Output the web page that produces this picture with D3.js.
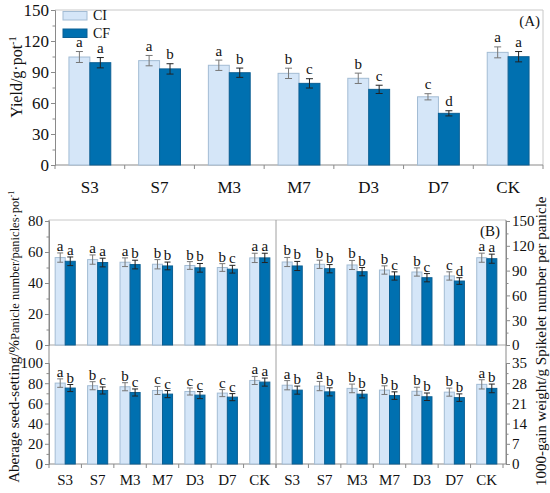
<!DOCTYPE html>
<html>
<head>
<meta charset="utf-8">
<script src="https://cdn.jsdelivr.net/npm/d3@7"></script>
<style>
  body { margin: 0; background: #fff; }
  svg { display: block; font-family: "Liberation Serif", "Times New Roman", serif; }
  svg text { font-family: "Liberation Serif", "Times New Roman", serif; }
</style>
</head>
<body>
<svg id="chart"></svg>
<script>
const width = 550;
const height = 493;

// treatments and series
const groups = ["S3", "S7", "M3", "M7", "D3", "D7", "CK"];
const series = ["CI", "CF"];

// (A) yield
const yieldCI = [104.5, 101, 96.5, 88.7, 83.9, 66, 109];
const yieldCF = [99, 93, 89.3, 79, 73.2, 50, 104.8];
const yieldErrCI = [5.3, 5, 5, 5, 5, 3, 5.3];
const yieldErrCF = [5, 5, 4.5, 4.5, 4, 2.5, 5];
const yieldLetCI = ["a", "a", "a", "b", "b", "c", "a"];
const yieldLetCF = ["a", "b", "b", "c", "c", "d", "a"];

// (B) panicle number
const panicleCI = [56.4, 55.1, 53.4, 52.1, 51.3, 50, 56.2];
const panicleCF = [54, 53.2, 51.9, 51, 49.8, 48.9, 56.2];
const panicleErrCI = [3, 3, 2.8, 3, 2.5, 2.5, 3];
const panicleErrCF = [2.8, 2.8, 2.8, 2.5, 2.8, 2.5, 3];
const panicleLetCI = ["a", "a", "a", "b", "b", "b", "a"];
const panicleLetCF = ["a", "a", "b", "b", "b", "c", "a"];

// (B) spikelet number per panicle
const spikeletCI = [100.4, 97.6, 96.8, 90.7, 88.3, 83.5, 105.6];
const spikeletCF = [95.6, 92.3, 88.7, 83.5, 81.4, 77.4, 104.4];
const spikeletErrCI = [5.5, 5, 5.5, 5, 5, 5, 5.5];
const spikeletErrCF = [5.5, 5, 5, 5, 5, 4, 5.5];
const spikeletLetCI = ["b", "b", "b", "b", "b", "c", "a"];
const spikeletLetCF = ["b", "b", "b", "c", "c", "d", "a"];

// (B) seed-setting
const seedCI = [80.1, 77.5, 76.5, 72.8, 71.8, 70.2, 82.7];
const seedCF = [75.2, 72.8, 70.8, 69.2, 68.2, 66.2, 81.1];
const seedErrCI = [4.2, 4, 4, 4, 3.5, 3.5, 4];
const seedErrCF = [3.5, 3.5, 3.5, 3.5, 3.5, 3.5, 4];
const seedLetCI = ["a", "b", "b", "c", "c", "c", "a"];
const seedLetCF = ["b", "c", "c", "c", "c", "c", "a"];

// (B) 1000-grain weight
const weightCI = [27.3, 27.0, 26.2, 25.6, 25.2, 24.9, 27.6];
const weightCF = [25.6, 25.0, 24.2, 23.7, 23.3, 23.0, 26.2];
const weightErrCI = [1.6, 1.6, 1.5, 1.5, 1.4, 1.4, 1.6];
const weightErrCF = [1.4, 1.4, 1.3, 1.3, 1.3, 1.3, 1.5];
const weightLetCI = ["a", "a", "b", "b", "b", "b", "a"];
const weightLetCF = ["b", "b", "b", "b", "b", "b", "b"];

const lightFill = "#d5e6f8", lightStroke = "#a3bcd4";
const darkFill = "#0070b0", darkStroke = "#0b5f93";
const axisColor = "#8a8a8a", frameColor = "#c8c8c8";

const svg = d3.select("#chart")
  .attr("width", width)
  .attr("height", height);

// draw one set of grouped bars with error bars and letters
function drawBars(x, y, ci, cf, errCI, errCF, letCI, letCF, opt) {
  const x1 = d3.scaleBand().domain(series).range([0, x.bandwidth()]);
  const rows = [];
  groups.forEach((gname, i) => {
    rows.push({g: gname, s: "CI", v: ci[i], e: errCI[i], l: letCI[i]});
    rows.push({g: gname, s: "CF", v: cf[i], e: errCF[i], l: letCF[i]});
  });
  const g = svg.append("g");
  const bar = g.selectAll("g.bar")
    .data(rows)
    .enter().append("g")
    .attr("class", "bar");

  bar.append("rect")
    .attr("x", d => x(d.g) + x1(d.s))
    .attr("y", d => y(d.v))
    .attr("width", x1.bandwidth())
    .attr("height", d => y(0) - y(d.v))
    .attr("fill", d => d.s === "CI" ? lightFill : darkFill)
    .attr("stroke", d => d.s === "CI" ? lightStroke : darkStroke)
    .attr("stroke-width", 1);

  const cx = d => x(d.g) + x1(d.s) + x1.bandwidth() / 2;
  const wc = d => d.s === "CI" ? "#777" : "#222";
  bar.append("line")
    .attr("x1", cx).attr("x2", cx)
    .attr("y1", d => y(d.v + d.e)).attr("y2", d => y(d.v - d.e))
    .attr("stroke", wc);
  [1, -1].forEach(sg => {
    bar.append("line")
      .attr("x1", d => cx(d) - opt.cap).attr("x2", d => cx(d) + opt.cap)
      .attr("y1", d => y(d.v + sg * d.e)).attr("y2", d => y(d.v + sg * d.e))
      .attr("stroke", wc);
  });

  bar.append("text")
    .attr("x", cx)
    .attr("y", d => y(d.v + d.e) - opt.gap)
    .attr("text-anchor", "middle")
    .attr("font-size", opt.font)
    .attr("fill", "#111")
    .text(d => d.l);
}

function styleAxis(sel, fs) {
  sel.attr("font-family", null).attr("font-size", null);
  sel.select(".domain").attr("stroke", axisColor);
  sel.selectAll(".tick line").attr("stroke", axisColor);
  sel.selectAll(".tick text").attr("font-size", fs).attr("fill", "#111");
}

function yAxis(y, xpos, major, minor, side, fs) {
  const make = side === "left" ? d3.axisLeft : d3.axisRight;
  const gMinor = svg.append("g").attr("transform", `translate(${xpos},0)`)
    .call(make(y).tickValues(minor).tickSize(2.5).tickSizeOuter(0).tickFormat(""));
  styleAxis(gMinor, fs);
  const gMajor = svg.append("g").attr("transform", `translate(${xpos},0)`)
    .call(make(y).tickValues(major).tickSize(4).tickSizeOuter(0).tickPadding(2));
  styleAxis(gMajor, fs);
}

function xAxis(x, ypos, labelY, fs) {
  const bounds = d3.range(groups.length + 1).map(k => x.range()[0] + k * x.step());
  const g = svg.append("g");
  g.selectAll("line.bt").data(bounds).enter().append("line")
    .attr("x1", d => d).attr("x2", d => d)
    .attr("y1", ypos).attr("y2", ypos + 4)
    .attr("stroke", axisColor);
  g.selectAll("text").data(groups).enter().append("text")
    .attr("x", d => x(d) + x.bandwidth() / 2)
    .attr("y", labelY)
    .attr("text-anchor", "middle")
    .attr("font-size", fs)
    .attr("fill", "#111")
    .text(d => d);
}

function rotLabel(xpos, ypos, text, fs, anchor, sup) {
  const t = svg.append("text")
    .attr("transform", `translate(${xpos},${ypos}) rotate(-90)`)
    .attr("text-anchor", anchor)
    .attr("font-size", fs)
    .attr("fill", "#111")
    .text(text);
  if (sup) {
    t.append("tspan").attr("dy", -fs * 0.4).attr("font-size", fs * 0.65).text(sup);
  }
  return t;
}

// ---------- Panel A ----------
const xA = d3.scaleBand().domain(groups).range([55, 543]).paddingInner(0.4).paddingOuter(0.2);
const yA = d3.scaleLinear().domain([0, 150]).range([165, 10]);

svg.append("path")
  .attr("d", `M55,10H543V165`)
  .attr("fill", "none").attr("stroke", frameColor);
svg.append("line").attr("x1", 55).attr("x2", 543).attr("y1", 165).attr("y2", 165)
  .attr("stroke", axisColor);

drawBars(xA, yA, yieldCI, yieldCF, yieldErrCI, yieldErrCF, yieldLetCI, yieldLetCF,
  {cap: 3.5, gap: 4.5, font: 15});
yAxis(yA, 55, d3.range(0, 151, 30), d3.range(15, 150, 30), "left", 17);
xAxis(xA, 165, 193, 17);
rotLabel(22, 77, "Yield/g·pot", 16, "middle", "-1");

svg.append("text").attr("x", 540).attr("y", 26).attr("text-anchor", "end")
  .attr("font-size", 15).attr("fill", "#111").text("(A)");

// legend
const legend = svg.append("g");
series.forEach((s, i) => {
  legend.append("rect")
    .attr("x", 63).attr("y", 11.5 + i * 17.5)
    .attr("width", 24).attr("height", 8.5)
    .attr("fill", s === "CI" ? lightFill : darkFill)
    .attr("stroke", s === "CI" ? lightStroke : darkStroke);
  legend.append("text")
    .attr("x", 93).attr("y", 20 + i * 17.5)
    .attr("font-size", 14).attr("fill", "#111")
    .text(s);
});

// ---------- Panel B ----------
const xBL = d3.scaleBand().domain(groups).range([49, 276]).paddingInner(0.38).paddingOuter(0.19);
const xBR = d3.scaleBand().domain(groups).range([276, 503]).paddingInner(0.38).paddingOuter(0.19);
const yPan = d3.scaleLinear().domain([0, 80]).range([345, 221]);
const ySpk = d3.scaleLinear().domain([0, 150]).range([345, 221]);
const ySeed = d3.scaleLinear().domain([0, 100]).range([464, 363]);
const yWt = d3.scaleLinear().domain([0, 35]).range([464, 363]);

// frame and dividers
svg.append("line").attr("x1", 49).attr("x2", 506).attr("y1", 220).attr("y2", 220).attr("stroke", frameColor);
svg.append("line").attr("x1", 49).attr("x2", 506).attr("y1", 345).attr("y2", 345).attr("stroke", "#a8a8a8");
svg.append("line").attr("x1", 49).attr("x2", 506).attr("y1", 464).attr("y2", 464).attr("stroke", axisColor);
svg.append("line").attr("x1", 276).attr("x2", 276).attr("y1", 220).attr("y2", 464).attr("stroke", "#a0a0a0");
svg.append("line").attr("x1", 49).attr("x2", 49).attr("y1", 220).attr("y2", 464).attr("stroke", axisColor);
svg.append("line").attr("x1", 506).attr("x2", 506).attr("y1", 220).attr("y2", 464).attr("stroke", axisColor);

const optB = {cap: 3, gap: 2, font: 15};
drawBars(xBL, yPan, panicleCI, panicleCF, panicleErrCI, panicleErrCF, panicleLetCI, panicleLetCF, optB);
drawBars(xBR, ySpk, spikeletCI, spikeletCF, spikeletErrCI, spikeletErrCF, spikeletLetCI, spikeletLetCF, optB);
drawBars(xBL, ySeed, seedCI, seedCF, seedErrCI, seedErrCF, seedLetCI, seedLetCF, optB);
drawBars(xBR, yWt, weightCI, weightCF, weightErrCI, weightErrCF, weightLetCI, weightLetCF, optB);

yAxis(yPan, 49, d3.range(0, 81, 20), d3.range(10, 80, 20), "left", 15);
yAxis(ySeed, 49, d3.range(0, 101, 20), d3.range(10, 101, 20), "left", 15);
yAxis(ySpk, 506, d3.range(0, 151, 30), d3.range(15, 150, 30), "right", 15);
yAxis(yWt, 506, d3.range(0, 36, 7), d3.range(3.5, 35, 7), "right", 15);

xAxis(xBL, 464, 485, 15);
xAxis(xBR, 464, 485, 15);

svg.append("text").attr("x", 500).attr("y", 236).attr("text-anchor", "end")
  .attr("font-size", 15).attr("fill", "#111").text("(B)");

rotLabel(19, 340, "Aberage seed-setting/%", 15, "end");
rotLabel(19, 340, "Panicle number/panicles·pot", 12.5, "start", "-1");
rotLabel(546, 486, "1000-gain weight/g Spikelet number per panicle", 15, "start");
</script>
</body>
</html>
